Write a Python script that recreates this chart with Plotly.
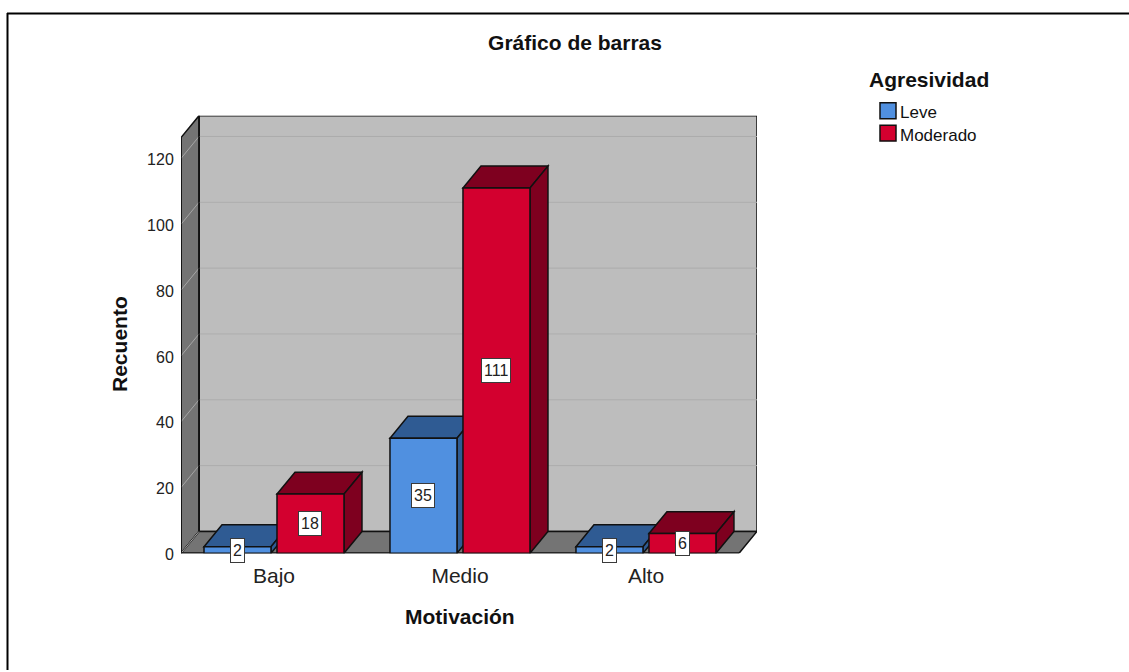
import plotly.graph_objects as go

categories = ["Bajo", "Medio", "Alto"]
leve = [2, 35, 2]
moderado = [18, 111, 6]
series_names = ["Leve", "Moderado"]
y_ticks = [0, 20, 40, 60, 80, 100, 120]

W, H = 1129, 672
LAYOUT_H = H + 8
PX_X, PX_Y = 186.0, 3.3           # pixels per data unit
DX, DY = 18 / PX_X, 22 / PX_Y     # 3D depth in data units
X0, X1 = 0.5, 3.597
Y_TOP = 133.0
BAR_W = 67 / PX_X
OFF = [-70 / PX_X, 3 / PX_X]

FRONT = ["#5090e0", "#d3002f"]
TOP = ["#2f5b93", "#7e001f"]
SIDE = ["#2f5b93", "#7e001f"]
EDGE = "#111111"
FONT = "Liberation Sans"


def poly(pts, fill, line=EDGE, w=1.5):
    p = "M " + " L ".join(f"{x},{y}" for x, y in pts) + " Z"
    return dict(type="path", path=p, xref="x", yref="y", fillcolor=fill,
                line=dict(color=line, width=w), layer="below")


def seg(a, b, color, w=1.5):
    return dict(type="line", xref="x", yref="y", x0=a[0], y0=a[1], x1=b[0], y1=b[1],
                line=dict(color=color, width=w), layer="below")


XF = X1 - DX        # front floor right end
YF = Y_TOP - DY     # front wall top
shapes = [
    poly([(X0 + DX, DY), (X1, DY), (X1, Y_TOP), (X0 + DX, Y_TOP)], "#bdbdbd"),
    poly([(X0, 0), (X0 + DX, DY), (X0 + DX, Y_TOP), (X0, YF)], "#747474"),
    poly([(X0, 0), (XF, 0), (X1, DY), (X0 + DX, DY)], "#747474"),
]
for v in y_ticks:
    shapes.append(seg((X0, v), (X0 + DX, v + DY), "#a6a6a6", 1))
    if v:
        shapes.append(seg((X0 + DX, v + DY), (X1, v + DY), "#adadad", 1))
shapes.append(seg((X0 + DX, DY), (X0 + DX, Y_TOP), EDGE))
shapes.append(seg((X0, 0), (X0, YF), EDGE))
shapes.append(seg((X0, 0), (XF, 0), EDGE))

annotations = []
traces = []
for s, vals in enumerate([leve, moderado]):
    traces.append(go.Bar(x=[1, 2, 3], y=vals, name=series_names[s], width=BAR_W, offset=OFF[s],
                         marker=dict(color=FRONT[s], line=dict(color=EDGE, width=1.5)),
                         showlegend=False, hoverinfo="x+y"))

for i in range(len(categories)):
    for s, vals in enumerate([leve, moderado]):
        v = vals[i]
        l = i + 1 + OFF[s]
        r = l + BAR_W
        shapes.append(poly([(l, v), (r, v), (r + DX, v + DY), (l + DX, v + DY)], TOP[s]))
        shapes.append(poly([(r, 0), (r + DX, DY), (r + DX, v + DY), (r, v)], SIDE[s]))
        annotations.append(dict(x=(l + r) / 2, y=v / 2, xref="x", yref="y", text=str(v), showarrow=False,
                                font=dict(family=FONT, size=16, color="#222222"),
                                height=19, borderpad=2,
                                bgcolor="#ffffff", bordercolor="#3a3a3a", borderwidth=1))


def paper_text(text, px, py, size, bold=False, anchor="center", angle=0):
    annotations.append(dict(x=px / W, y=1 - py / H, xref="paper", yref="paper", text=text, showarrow=False,
                            xanchor=anchor, yanchor="middle", textangle=angle,
                            font=dict(family=FONT, size=size, color="#111111",
                                      weight="bold" if bold else "normal")))


paper_text("Motivación", 460, 618, 21, True)
paper_text("Recuento", 120, 345, 21, True, angle=-90)
paper_text("Agresividad", 867, 80, 21, True, anchor="left")
for s, name in enumerate(series_names):
    yc = 111 + 22.5 * s
    paper_text(name, 898, yc + 2, 17, anchor="left")
    shapes.append(dict(type="rect", xref="paper", yref="paper", x0=880 / W, x1=896 / W,
                       y0=1 - (yc + 8) / H, y1=1 - (yc - 8) / H, fillcolor=FRONT[s],
                       line=dict(color=EDGE, width=1.5)))

# outer frame: top and left only
shapes.append(dict(type="line", xref="paper", yref="paper", x0=7 / W, x1=1, y0=1 - 13.5 / H, y1=1 - 13.5 / H,
                   line=dict(color="#000000", width=2)))
shapes.append(dict(type="line", xref="paper", yref="paper", x0=7.5 / W, x1=7.5 / W, y0=0, y1=1 - 13 / H,
                   line=dict(color="#000000", width=2)))

fig = go.Figure(traces)
fig.update_layout(
    width=W, height=LAYOUT_H, autosize=False, margin=dict(l=0, r=0, t=0, b=0),
    paper_bgcolor="#ffffff", plot_bgcolor="rgba(0,0,0,0)", barmode="overlay", showlegend=False,
    title=dict(text="Gráfico de barras", x=575 / W, xanchor="center", y=1 - 42 / H, yanchor="middle",
               font=dict(family=FONT, size=21, color="#111111", weight="bold")),
    shapes=shapes, annotations=annotations,
    xaxis=dict(domain=[181 / W, 757 / W], range=[X0, X1], tickvals=[1, 2, 3], ticktext=categories,
               showgrid=False, zeroline=False, showline=False, ticks="outside", ticklen=3,
               tickcolor="rgba(0,0,0,0)", tickfont=dict(family=FONT, size=21, color="#222222")),
    yaxis=dict(domain=[1 - 555 / H, 1 - 116 / H], range=[0, Y_TOP], tickvals=y_ticks,
               showgrid=False, zeroline=False, showline=False, ticks="outside", ticklen=3,
               ticklabelshift=1,
               tickcolor="rgba(0,0,0,0)", tickfont=dict(family=FONT, size=16, color="#222222")),
)
fig.write_html("out.html", config={"displayModeBar": False},
               post_script="document.documentElement.style.overflow='hidden';document.body.style.margin='0';document.body.style.padding='0';")
